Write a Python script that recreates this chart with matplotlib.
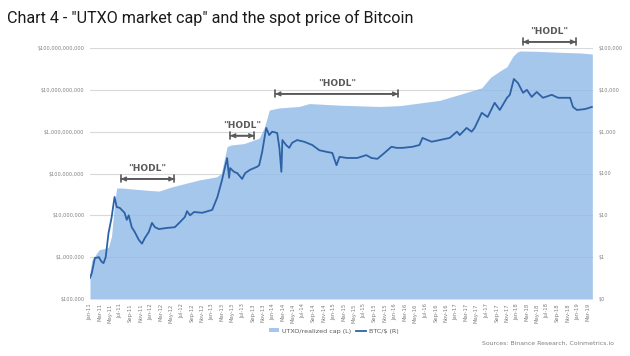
import matplotlib
matplotlib.use("Agg")
import matplotlib.pyplot as plt
import matplotlib.dates as mdates
import numpy as np
import pandas as pd

# ---- data ----
cap_dates = ["2011-01-01", "2011-01-12", "2011-02-24", "2011-04-21", "2011-05-10", "2011-05-28",
             "2011-06-10", "2011-07-10", "2011-12-01", "2012-02-18", "2012-05-06", "2012-10-15",
             "2013-01-27", "2013-02-25", "2013-04-01", "2013-04-25", "2013-07-12", "2013-10-10",
             "2013-11-10", "2013-12-10", "2014-02-08", "2014-06-06", "2014-08-06", "2015-02-03",
             "2015-10-01", "2016-02-01", "2016-09-25", "2017-01-15", "2017-06-04", "2017-07-27",
             "2017-10-01", "2017-11-01", "2017-12-07", "2018-01-01", "2018-01-19",
             "2018-05-18", "2018-09-15", "2019-01-15", "2019-03-28"]
cap_values = [4.5e5, 8.5e5, 1.5e6, 1.7e6, 3.2e6, 2.0e7,
              4.5e7, 4.5e7, 4.0e7, 3.8e7, 4.8e7, 7.0e7,
              8.3e7, 1.0e8, 4.4e8, 4.8e8, 5.2e8, 7.0e8,
              1.26e9, 3.3e9, 3.7e9, 4.0e9, 4.7e9, 4.3e9,
              4.0e9, 4.2e9, 5.6e9, 7.6e9, 1.12e10, 2.0e10,
              3.0e10, 3.55e10, 6.3e10, 7.9e10, 8.5e10,
              8.3e10, 7.9e10, 7.6e10, 7.2e10]

btc_dates = ["2011-01-01", "2011-01-12", "2011-01-30", "2011-02-23", "2011-03-11", "2011-03-23",
             "2011-04-05", "2011-04-22", "2011-05-10", "2011-05-28", "2011-06-10", "2011-06-28",
             "2011-07-27", "2011-08-09", "2011-08-21", "2011-09-08", "2011-09-26", "2011-10-20",
             "2011-11-08", "2011-11-26", "2011-12-19", "2012-01-07", "2012-01-25", "2012-02-18",
             "2012-04-06", "2012-05-23", "2012-06-23", "2012-07-22", "2012-08-04", "2012-08-22",
             "2012-09-15", "2012-11-03", "2013-01-02", "2013-02-02", "2013-03-02", "2013-04-01",
             "2013-04-13", "2013-04-19", "2013-05-12", "2013-06-01", "2013-06-30", "2013-07-18",
             "2013-08-17", "2013-09-10", "2013-09-28", "2013-10-10", "2013-10-28", "2013-11-21",
             "2013-12-09", "2013-12-27", "2014-01-26", "2014-02-08", "2014-02-20", "2014-02-26",
             "2014-03-20", "2014-04-08", "2014-04-25", "2014-05-25", "2014-07-06", "2014-08-24",
             "2014-10-05", "2014-11-17", "2014-12-22", "2015-01-16", "2015-02-03", "2015-03-21",
             "2015-05-20", "2015-07-13", "2015-08-13", "2015-09-18", "2015-10-30", "2015-12-11",
             "2016-01-11", "2016-02-16", "2016-04-15", "2016-05-27", "2016-06-14", "2016-07-14",
             "2016-08-08", "2016-09-25", "2016-11-24", "2017-01-06", "2017-01-23", "2017-03-05",
             "2017-04-04", "2017-04-22", "2017-06-04", "2017-07-09", "2017-08-20", "2017-09-20",
             "2017-11-02", "2017-11-19", "2017-12-13", "2018-01-07", "2018-02-06", "2018-03-01",
             "2018-03-30", "2018-04-29", "2018-06-05", "2018-07-28", "2018-09-04", "2018-11-15",
             "2018-12-02", "2018-12-26", "2019-02-13", "2019-03-25"]
btc_values = [0.32, 0.42, 0.95, 1.0, 0.78, 0.72,
              1.0, 3.8, 8.7, 27.5, 15.8, 15.1,
              11.5, 7.8, 10, 5.2, 4.0, 2.6,
              2.1, 2.9, 4.0, 6.6, 5.2, 4.7,
              5.0, 5.2, 6.9, 9.1, 12.6, 10,
              12, 11.5, 13.5, 27.5, 71, 234,
              79, 135, 110, 102, 74, 102,
              123, 135, 145, 158, 330, 1230,
              830, 1000, 930, 410, 110, 630,
              480, 410, 540, 630, 575, 480,
              360, 330, 310, 158, 250, 235,
              235, 275, 235, 224, 310, 435,
              410, 410, 435, 480, 710, 630,
              575, 630, 710, 1000, 830, 1230,
              1000, 1230, 2820, 2240, 4900, 3300,
              6460, 7600, 18200, 14500, 8500, 10000,
              6760, 8900, 6460, 7600, 6460, 6460,
              3900, 3300, 3470, 3900]

left_ticks = [1e5, 1e6, 1e7, 1e8, 1e9, 1e10, 1e11]
left_labels = ["$100,000", "$1,000,000", "$10,000,000", "$100,000,000",
               "$1,000,000,000", "$10,000,000,000", "$100,000,000,000"]
right_ticks = [0.1, 1, 10, 100, 1000, 10000, 100000]
right_labels = ["$0", "$1", "$10", "$100", "$1,000", "$10,000", "$100,000"]

# HODL periods (start, end, height on left axis)
hodl_starts = ["2011-07-05", "2013-04-20", "2014-01-15", "2018-02-05"]
hodl_ends = ["2012-05-20", "2013-09-10", "2016-01-20", "2018-12-20"]
hodl_levels = [7.4e7, 8.0e8, 8.0e9, 1.4e11]

title = 'Chart 4 - "UTXO market cap" and the spot price of Bitcoin'
source = "Sources: Binance Research, Coinmetrics.io"

# ---- figure ----
fig = plt.figure(figsize=(6.3, 3.56), dpi=100)
ax = fig.add_axes([90 / 630, 1 - 299 / 356, 503 / 630, 251 / 356])
ax2 = ax.twinx()

cd = pd.to_datetime(cap_dates)
bd = pd.to_datetime(btc_dates)

area_col = "#93bbe8"
line_col = "#2d62a6"
grid_col = "#d9d9d9"
tick_col = "#7f7f7f"

ax.set_yscale("log")
ax.set_ylim(1e5, 1e11)
ax.set_xlim(pd.Timestamp("2011-01-01"), pd.Timestamp("2019-04-01"))
ax.grid(axis="y", color=grid_col, linewidth=0.8, zorder=0)
ax.set_axisbelow(True)
ax.fill_between(cd, 1e5, cap_values, color=area_col, alpha=0.82, linewidth=0, zorder=2,
                label="UTXO/realized cap (L)")

ax2.set_yscale("log")
ax2.set_ylim(0.1, 1e5)
ax2.plot(bd, btc_values, color=line_col, linewidth=1.3, zorder=3, label="BTC/$ (R)")

ax.set_yticks(left_ticks)
ax.set_yticklabels(left_labels)
ax.yaxis.set_minor_locator(matplotlib.ticker.NullLocator())
ax2.set_yticks(right_ticks)
ax2.set_yticklabels(right_labels)
ax2.yaxis.set_minor_locator(matplotlib.ticker.NullLocator())

for a in (ax, ax2):
    for s in a.spines.values():
        s.set_visible(False)
    a.tick_params(axis="y", length=0, labelsize=3.6, colors=tick_col, pad=4)

ax.xaxis.set_major_locator(mdates.MonthLocator(bymonth=[1, 3, 5, 7, 9, 11]))
ax.xaxis.set_major_formatter(mdates.DateFormatter("%b-%y"))
ax.tick_params(axis="x", length=0, labelsize=3.8, colors=tick_col, labelrotation=90, pad=3)

# HODL annotations
hcol = "#595959"
for s, e, lv in zip(hodl_starts, hodl_ends, hodl_levels):
    s_ = mdates.date2num(pd.Timestamp(s))
    e_ = mdates.date2num(pd.Timestamp(e))
    ax.annotate("", xy=(s_, lv), xytext=(e_, lv), xycoords="data",
                arrowprops=dict(arrowstyle="|-|,widthA=0.25,widthB=0.25", color=hcol, lw=1.2,
                                shrinkA=0, shrinkB=0), annotation_clip=False)
    ax.annotate("", xy=(s_, lv), xytext=(e_, lv), xycoords="data",
                arrowprops=dict(arrowstyle="<->,head_length=0.25,head_width=0.12", color=hcol, lw=1.2,
                                shrinkA=0, shrinkB=0), annotation_clip=False)
    ax.annotate('"HODL"', xy=((s_ + e_) / 2, lv), xytext=(0, 4), textcoords="offset points",
                ha="center", va="bottom", fontsize=6.5, fontweight="bold", color=hcol,
                annotation_clip=False)

fig.text(7 / 630, 1 - 18 / 356, title, fontsize=11.65, color="#1a1a1a", va="center", ha="left",
         family=["Roboto", "DejaVu Sans"])

# legend
h1, l1 = ax.get_legend_handles_labels()
h2, l2 = ax2.get_legend_handles_labels()
fig.legend(h1 + h2, l1 + l2, loc="center", bbox_to_anchor=(334 / 630, 1 - 331 / 356), ncol=2,
           frameon=False, fontsize=4.6, labelcolor="#595959", handlelength=1.6, handleheight=0.5,
           handletextpad=0.4, columnspacing=0.8, borderaxespad=0)

fig.text(614 / 630, 1 - 343 / 356, source, fontsize=4.4, color="#7f7f7f", ha="right", va="center")

fig.savefig("out.png", dpi=100)
